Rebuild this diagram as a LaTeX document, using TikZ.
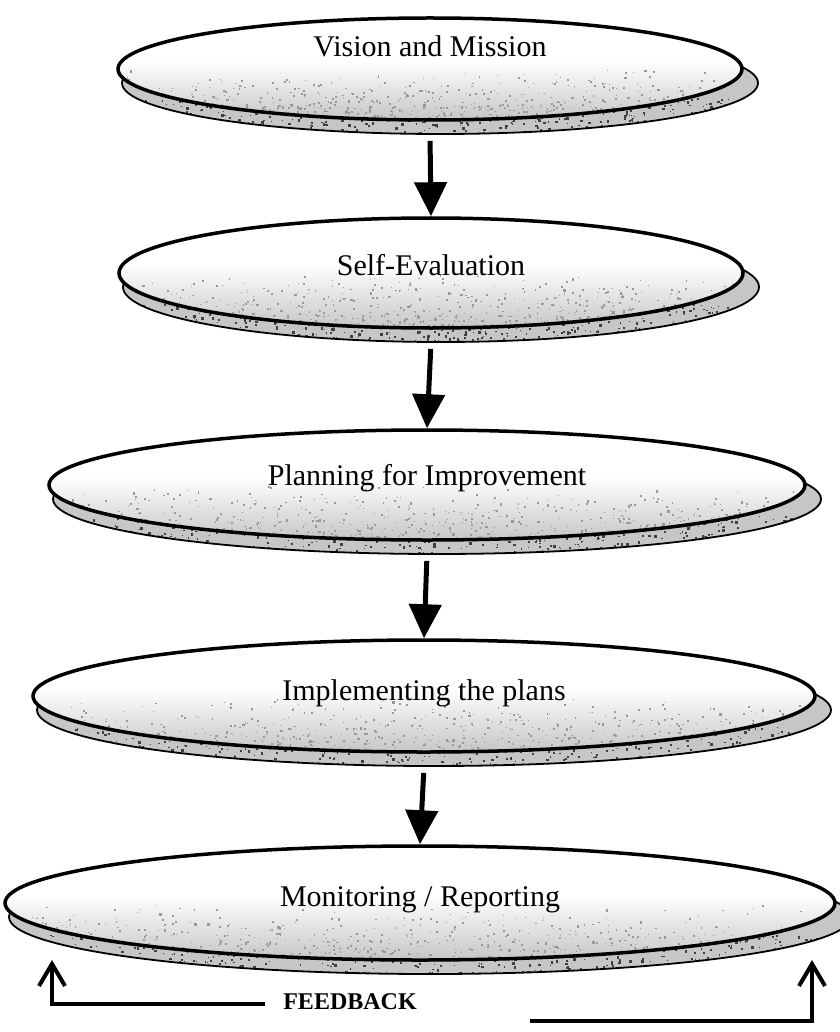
\documentclass[tikz,border=0pt]{standalone}
\usepackage{fontspec}
\setmainfont{Liberation Serif}
\usetikzlibrary{arrows.meta,shapes.geometric}

% speckled rim under each disk
\newcommand\rimgrain[2]{%
  \coordinate (gc) at (path picture bounding box.center);
  \foreach \k in {1,...,600}{%
    \pgfmathsetmacro\gx{(#1+6)*rand}%
    \pgfmathsetmacro\gy{#2*(0.3+0.75*rnd)}%
    \pgfmathsetmacro\gs{0.8+2*rnd}%
    \fill[black!75] ([shift={(\gx,\gy)}]gc) rectangle +(\gs,\gs);
  }%
}
% grain on the lower half of each disk
\newcommand\topgrain[2]{%
  \coordinate (gc) at (path picture bounding box.center);
  \shade[top color=white, bottom color=gray!45] ([shift={(-#1,-8)}]gc) rectangle ([shift={(#1,#2)}]gc);
  \foreach \k in {1,...,650}{%
    \pgfmathsetmacro\gx{#1*rand}%
    \pgfmathsetmacro\gy{#2*(0.0+1.0*sqrt(rnd))}%
    \pgfmathsetmacro\gs{0.7+1.7*rnd}%
    \fill[gray!80] ([shift={(\gx,\gy)}]gc) rectangle +(\gs,\gs);
  }%
}

\tikzset{
  rimdisk/.style={ellipse, inner sep=0pt, draw=black, line width=1.8pt, fill=gray!45},
  topdisk/.style={ellipse, inner sep=0pt, draw=black, line width=3.5pt, fill=white},
  stagetext/.style={inner sep=0pt, font=\fontsize{30}{36}\selectfont},
  flow/.style={line width=5pt, -{Triangle[length=34pt,width=32pt]}, shorten <=6pt},
  fbline/.style={line width=4pt, -{Straight Barb[length=22pt,width=26pt]}},
  fbtext/.style={inner xsep=18pt, inner ysep=0pt, font=\bfseries\fontsize{24}{28}\selectfont}
}

% name, centre x, centre y, x radius, y radius, text baseline, text
\newcommand\stagedisk[7]{%
  \node[rimdisk, minimum width={(2*#4+12)*1pt}, minimum height={2*#5*1pt},
        path picture={\rimgrain{#4}{#5}}] (#1s) at ({#2+10},{#3+14}) {};
  \node[topdisk, minimum width={2*#4*1pt}, minimum height={2*#5*1pt},
        path picture={\topgrain{#4}{#5}}] (#1) at (#2,#3) {};
  \node[stagetext, anchor=base] (#1t) at (#2,#6) {#7};
}

\begin{document}
\begin{tikzpicture}[x=1pt,y=-1pt]
  \pgfmathsetseed{4217}
  \fill[white] (0,0) rectangle (839,1032);
  \useasboundingbox (0,0) rectangle (839,1032);

  \stagedisk{vm}{430}{69}{312}{51}{57}{Vision and Mission}
  \stagedisk{se}{431}{273}{312}{55}{275}{Self-Evaluation}
  \stagedisk{pi}{427}{485}{378}{55}{485}{Planning for Improvement}
  \stagedisk{ip}{424}{696}{391}{56}{700}{Implementing the plans}
  \stagedisk{mr}{420}{903}{415}{57}{906}{Monitoring / Reporting}

  \draw[flow] (vm.south |- vms.south) -- (se.north);
  \draw[flow] (se.south |- ses.south) -- (pi.north);
  \draw[flow] (pi.south |- pis.south) -- (ip.north);
  \draw[flow] (ip.south |- ips.south) -- (mr.north);

  % feedback loop
  \node[fbtext, anchor=base] (fb) at (350,1009) {FEEDBACK};
  \coordinate (fbl) at (52,960);
  \coordinate (fbr0) at (530,1021);
  \coordinate (fbr) at (812,960);
  \draw[fbline] ([yshift=5pt]fb.base west) -| (fbl);
  \draw[fbline] (fbr0) -| (fbr);
\end{tikzpicture}
\end{document}
